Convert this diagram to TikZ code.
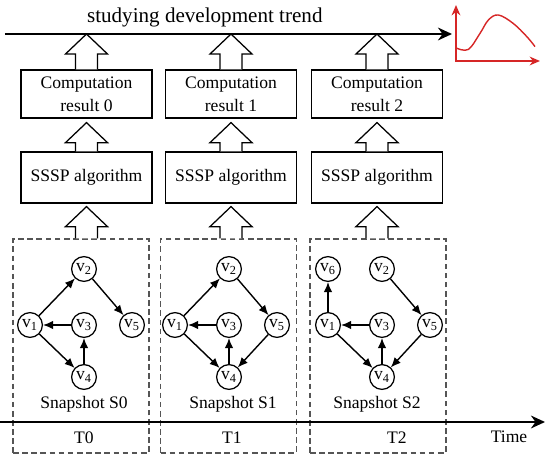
\documentclass[tikz,border=0pt]{standalone}
\usepackage{fontspec}
\setmainfont{Liberation Serif}
\usepackage{tikz}
\usetikzlibrary{arrows.meta, positioning, calc}
\definecolor{trendred}{RGB}{214, 38, 38}
\definecolor{framegray}{RGB}{85, 85, 85}

% hollow block arrow from #1 (shaft base) up to #2 (tip height)
\newcommand{\blockarrow}[2]{%
    \draw[line width=0.9pt, fill=white] let \p1=(#1), \p2=(#2) in
        (\x1-0.275cm,\y1) -- (\x1-0.275cm,\y2-0.5cm) -- (\x1-0.525cm,\y2-0.5cm)
        -- (\x1,\y2) -- (\x1+0.525cm,\y2-0.5cm) -- (\x1+0.275cm,\y2-0.5cm) -- (\x1+0.275cm,\y1);
}

\begin{document}
\begin{tikzpicture}[
    txt/.style={font=\fontsize{12.5}{16.4}\selectfont},
    box/.style={rectangle, draw, line width=0.9pt, minimum width=3.275cm, txt, align=center},
    snap/.style={rectangle, draw=framegray, dash pattern=on 4pt off 2.5pt, line width=0.8pt, minimum width=3.4cm, minimum height=5.35cm},
    vertex/.style={circle, draw, line width=0.9pt, minimum size=0.62cm, inner sep=0pt, font=\fontsize{12.5}{12.5}\selectfont},
    edge/.style={-{Latex[length=2.5mm, width=2.1mm]}, line width=1pt},
]
    \useasboundingbox (0,0) rectangle (13.7,11.475);

    \coordinate (tstart) at (0,0.925);
    \coordinate (tend) at (13.625,0.925);
    \coordinate (rstart) at (0.125,10.625);
    \coordinate (rend) at (11.3,10.625);

    % snapshots, algorithm and results
    \foreach \i/\cx/\bx in {0/2.1625/2.025, 1/5.775/5.7125, 2/9.425/9.45} {
        \node[snap] (snap\i) at (\bx, 2.825) {};
        \node[box, minimum height=1.2cm] (comp\i) at (\cx, 9.125) {Computation\\result \i};
        \node[box, minimum height=1.275cm] (sssp\i) at (\cx, 7.0375) {SSSP algorithm};
    }

    \draw[line width=1.6pt, -{Stealth[length=3.5mm, width=3.2mm]}] (tstart) -- (tend);
    \draw[line width=1.6pt, -{Stealth[length=3.5mm, width=3.2mm]}] (rstart) -- (rend);

    \foreach \i in {0,1,2} {
        \blockarrow{comp\i.north}{comp\i.north |- rstart}
        \blockarrow{sssp\i.north}{$(comp\i.south)+(0,-0.1)$}
        \blockarrow{sssp\i.south |- snap\i.north}{$(sssp\i.south)+(0,-0.075)$}
    }

    % graphs of the snapshots
    \foreach \i/\cx in {0/2.1, 1/5.725, 2/9.55} {
        \node[vertex] (g\i-3) at (\cx, 3.35) {v\textsubscript{3}};
        \node[vertex] (g\i-1) at (\cx-1.35, 3.35) {v\textsubscript{1}};
        \node[vertex] (g\i-5) at (\cx+1.2, 3.35) {v\textsubscript{5}};
        \node[vertex] (g\i-2) at (\cx, 4.75) {v\textsubscript{2}};
        \node[vertex] (g\i-4) at (\cx, 2.05) {v\textsubscript{4}};
        \draw[edge] (g\i-3) -- (g\i-1);
        \draw[edge] (g\i-1) -- (g\i-4);
        \draw[edge] (g\i-4) -- (g\i-3);
        \draw[edge] (g\i-2) -- (g\i-5);
        \ifnum\i<2
            \draw[edge] (g\i-1) -- (g\i-2);
        \fi
        \ifnum\i>0
            \draw[edge] (g\i-5) -- (g\i-4);
        \fi
        \ifnum\i=2
            \node[vertex] (g\i-6) at (\cx-1.35, 4.75) {v\textsubscript{6}};
            \draw[edge] (g\i-1) -- (g\i-6);
        \fi
    }

    \foreach \i/\lx/\tx in {0/2.1/2.1, 1/5.825/5.8, 2/9.425/9.925} {
        \node[txt] (snaplabel\i) at (\lx, 1.375) {Snapshot S\i};
        \node[txt] (tlabel\i) at (\tx, 0.525) {T\i};
    }
    \node[txt] (timelabel) at (12.725, 0.55) {Time};
    \node[font=\fontsize{15}{18}\selectfont] (trendlabel) at (5.12, 11.04) {studying development trend};

    % trend sketch
    \coordinate (origin) at (11.4, 9.95);
    \coordinate (ytip) at (11.4, 11.35);
    \coordinate (xtip) at (13.5, 9.95);
    \draw[trendred, line width=1pt, {Stealth[length=2.6mm, width=2.2mm]}-{Stealth[length=2.6mm, width=2.2mm]}]
        (ytip) -- (origin) -- (xtip);
    \draw[trendred, line width=1pt] plot[smooth, tension=0.6] coordinates
        {(11.42,10.27) (11.71,10.24) (12.0,10.64) (12.21,10.975) (12.46,11.1) (12.83,10.89) (13.17,10.56) (13.375,10.31)};
\end{tikzpicture}
\end{document}
